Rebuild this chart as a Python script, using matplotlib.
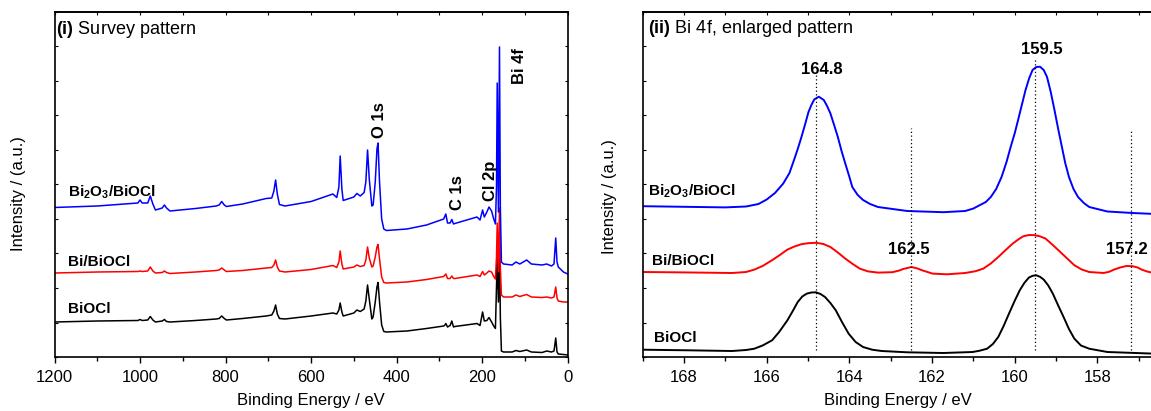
import numpy as np
import matplotlib
matplotlib.use('Agg')
import matplotlib.pyplot as plt
from matplotlib.ticker import MultipleLocator

plt.rcParams['font.family'] = ['Liberation Sans', 'DejaVu Sans']
plt.rcParams['mathtext.fontset'] = 'custom'
plt.rcParams['mathtext.rm'] = 'Liberation Sans'
plt.rcParams['mathtext.bf'] = 'Liberation Sans:bold'

# ---- survey spectra (binding energy in eV, intensity in a.u.) ----
survey_be = [1200, 1100, 1005, 1000, 995, 982, 976, 970, 964, 948, 943, 938, 930,
             870, 822, 815, 809, 803, 798, 760, 705, 692, 687, 683, 679, 674, 661,
             600, 549, 540, 535, 532, 528, 525, 500, 493, 485, 476, 472, 468, 464,
             458, 455, 450, 446, 443.5, 440, 435, 430, 424, 376, 330, 290, 288, 285,
             281, 275, 271, 267, 264, 212, 205, 199, 195, 189, 184, 178, 173, 169,
             166.5, 164.8, 162, 159.5, 157.5, 155, 150, 130, 121, 112, 96, 85, 60,
             49, 38, 32, 28, 25, 22, 10, 0]
survey_bi2o3 = [149.5, 151, 154, 157, 154, 154, 161, 153, 147, 149, 152, 149, 146,
                148.5, 151, 152, 155.5, 152, 150.5, 153, 158.5, 159, 166, 177, 163, 152.5, 151,
                155.5, 163, 159.5, 170, 201, 168, 156.5, 160, 163.5, 161, 164.5, 175, 207, 178,
                151, 152, 175, 208, 214, 175, 138, 128, 126.5, 128, 132, 138, 140, 143,
                134, 134, 137.5, 133, 133.5, 140, 137, 147, 140, 145, 150, 146, 138, 133,
                170, 274, 145, 310, 150, 95, 93, 92, 95, 93, 97, 93, 92,
                93, 91, 93, 119, 95, 90, 85, 83]
survey_bi = [84, 85, 85.5, 86, 85.5, 86, 90, 86, 84, 84.5, 86, 84.5, 83.5,
             85, 86.5, 87, 89, 87, 85.5, 86.5, 89, 89.5, 92, 97, 90, 86, 85,
             87.5, 91.5, 89.5, 95, 106, 93, 88, 90, 92, 90.5, 91.5, 97, 110, 99,
             90, 91, 100, 110, 112.5, 98, 80, 74.5, 74, 75, 77.5, 80.5, 81.5, 83,
             78.5, 78.5, 81, 78.5, 78.5, 82, 80.5, 85.5, 82, 84, 86, 85, 80.5, 78,
             100, 134, 85, 149, 90, 62, 60, 60, 62, 60.5, 62.5, 60, 59.5,
             60, 59, 60, 70, 59, 56, 55, 55]
survey_biocl = [35, 36, 36.5, 37.5, 36.5, 37, 40.5, 37, 35, 36, 37.5, 35.5, 35,
                36.5, 38, 38.5, 41, 38.5, 37, 38.5, 41, 42, 46, 52, 43, 38.5, 38,
                41, 44, 43, 47, 54, 45, 41, 44, 47, 45.5, 48, 56, 72, 58,
                38, 40, 55, 70, 74.5, 55, 32, 25.5, 25, 26, 28.5, 31, 31.5, 33.5,
                30, 31.5, 36, 30, 30.5, 33.5, 31.5, 45, 36, 36.5, 39.5, 35, 31, 28.5,
                70, 100, 55, 115, 40, 6, 5, 5, 6.5, 5.5, 7, 5, 4.5,
                6, 5, 6, 19, 5, 3, 2.5, 2]

# ---- Bi 4f high-resolution spectra ----
bi4f_be_bi2o3 = [169.0, 168.0, 167.0, 166.5, 166.2, 166.0, 165.8, 165.6, 165.45, 165.34,
                 165.25, 165.16, 165.07, 164.99, 164.92, 164.85, 164.74, 164.62, 164.54,
                 164.46, 164.37, 164.28, 164.19, 164.1, 164.0, 163.93, 163.8, 163.67, 163.5,
                 163.31, 162.6, 161.73, 161.2, 161.0, 160.85, 160.7, 160.58, 160.45, 160.32,
                 160.2, 160.1, 160.0, 159.92, 159.83, 159.74, 159.65, 159.57, 159.48, 159.39,
                 159.3, 159.22, 159.13, 159.04, 158.95, 158.86, 158.78, 158.69, 158.58,
                 158.47, 158.33, 158.2, 157.76, 157.15, 156.6]
bi4f_int_bi2o3 = [150.8, 150.2, 149.6, 150.5, 153, 157.5, 164, 173.5, 184, 197,
                  208, 220, 233, 245, 252, 257.6, 260.3, 257, 251,
                  243.6, 232, 220, 206, 193.5, 180, 170, 162, 157, 153,
                  150, 146, 144.8, 146, 148.5, 151.8, 155, 160, 168, 180,
                  195, 210, 224, 237, 252, 267, 279, 287, 290, 290.3,
                  287, 280, 265, 247, 228, 210, 194, 180, 168,
                  160, 154, 150, 145.5, 144, 143]

bi4f_be_bi = [169.0, 168.0, 166.84, 166.5, 166.3, 166.1, 165.87, 165.7, 165.5, 165.33,
              165.16, 165.0, 164.8, 164.63, 164.46, 164.28, 164.1, 163.92, 163.75, 163.55,
              163.31, 162.96, 162.8, 162.7, 162.5, 162.35, 162.25, 161.99, 161.64, 161.2,
              160.95, 160.76, 160.58, 160.4, 160.22, 160.05, 159.9, 159.79, 159.65, 159.52,
              159.4, 159.26, 159.08, 158.9, 158.72, 158.56, 158.38, 158.2, 157.85, 157.72,
              157.6, 157.45, 157.3, 157.15, 157.03, 156.93, 156.8, 156.6]
bi4f_int_bi = [85, 84.6, 84, 85, 87.4, 91, 96.8, 101.5, 107.4, 110.5,
               112.8, 113.8, 114.2, 113, 110, 104.5, 98.4, 93, 88.4, 85.6,
               84.4, 84.8, 86.4, 88, 90, 88.5, 86.8, 83.4, 82.7, 84,
               85.8, 88.4, 93.5, 100, 107, 113.4, 118, 120.8, 122, 121.8,
               120.8, 118.5, 112, 105, 98, 91.8, 87.5, 85, 84, 85.2,
               87.4, 89.5, 91, 90.8, 89.5, 87.4, 85.5, 83.5]

bi4f_be_biocl = [169.0, 167.9, 166.84, 166.5, 166.3, 166.1, 165.87, 165.7, 165.5, 165.37,
                 165.25, 165.14, 165.03, 164.92, 164.81, 164.7, 164.59, 164.46, 164.33,
                 164.18, 164.02, 163.85, 163.67, 163.45, 163.22, 162.6, 161.73, 161.02,
                 160.85, 160.67, 160.53, 160.4, 160.27, 160.14, 160.01, 159.88, 159.77,
                 159.66, 159.57, 159.48, 159.39, 159.3, 159.19, 159.08, 158.95, 158.82,
                 158.69, 158.56, 158.4, 158.2, 157.76, 156.6]
bi4f_int_biocl = [7.3, 6.7, 6, 7, 8.3, 11.5, 16.7, 25, 36.7, 46,
                  55, 60.5, 63.4, 64.5, 64.7, 63, 60, 54, 46.7,
                  35, 23.4, 15, 10, 7.3, 6, 4.7, 4, 5,
                  6.3, 8.3, 13, 20, 31, 43.4, 55.5, 66.7, 74,
                  79.4, 81.2, 81.7, 80.2, 77.4, 71.5, 63.4, 51.5, 40,
                  28, 18.4, 11.5, 8.3, 5, 3.3]

# marked peak positions and where their labels / guide lines sit
peak_be = [164.8, 162.5, 159.5, 157.2]
peak_line_top = [282, 229, 298, 227]
peak_label_xy = [(164.67, 287.6), (162.56, 107.4), (159.35, 307), (157.28, 107.4)]

sample_names = [r'Bi$_\mathbf{2}$O$_\mathbf{3}$/BiOCl', 'Bi/BiOCl', 'BiOCl']
colors = ['#0000ff', '#ff0000', 'k']

YMAX = 345


def style_axis(ax, major, minor):
    ax.set_ylim(0, YMAX)
    ax.set_yticks(np.linspace(0, YMAX, 11))
    ax.tick_params(axis='y', which='both', direction='in', left=True, right=True,
                   labelleft=False, length=2.5, width=0.8)
    ax.xaxis.set_major_locator(MultipleLocator(major))
    ax.xaxis.set_minor_locator(MultipleLocator(minor))
    ax.tick_params(axis='x', which='major', direction='out', length=4, width=1,
                   labelsize=12, pad=5)
    ax.tick_params(axis='x', which='minor', direction='out', length=3, width=1)
    top = ax.secondary_xaxis('top')
    top.xaxis.set_major_locator(MultipleLocator(major))
    top.xaxis.set_minor_locator(MultipleLocator(minor))
    top.tick_params(which='both', direction='in', length=2.5, width=0.8, labeltop=False)
    top.spines['top'].set_linewidth(1.2)
    for s in ax.spines.values():
        s.set_linewidth(1.2)
    ax.set_xlabel('Binding Energy / eV', fontsize=12, labelpad=6)
    ax.set_ylabel('Intensity / (a.u.)', fontsize=12)


fig = plt.figure(figsize=(11.51, 4.11), dpi=100)

# (i) survey
ax1 = fig.add_axes([54.5 / 1151, 54 / 411, 513.2 / 1151, 345 / 411])
for vals, c in zip([survey_biocl, survey_bi, survey_bi2o3], colors[::-1]):
    ax1.plot(survey_be, vals, color=c, lw=1.1)
ax1.set_xlim(1200, 0)
style_axis(ax1, 200, 100)
ax1.yaxis.set_label_coords(-0.055, 0.475)
ax1.text(1196, 328, r'$\mathbf{(i)}$ Survey pattern', fontsize=13, va='center', ha='left')
for txt, x, y in [('O 1s', 439, 237), ('C 1s', 258.5, 164.7),
                  ('Cl 2p', 180.7, 175.7), ('Bi 4f', 112.4, 291)]:
    ax1.text(x, y, txt, rotation=90, fontsize=12, fontweight='bold',
             ha='center', va='center')
for name, y in zip(sample_names, [165, 95, 48.4]):
    ax1.text(1169, y, name, fontsize=11, fontweight='bold', va='center', ha='left')

# (ii) Bi 4f region
ax2 = fig.add_axes([642.7 / 1151, 54 / 411, 511 / 1151, 345 / 411])
ax2.plot(bi4f_be_biocl, bi4f_int_biocl, color='k', lw=1.4)
ax2.plot(bi4f_be_bi, bi4f_int_bi, color='#ff0000', lw=1.4)
ax2.plot(bi4f_be_bi2o3, bi4f_int_bi2o3, color='#0000ff', lw=1.4)
ax2.set_xlim(169, 156.64)
style_axis(ax2, 2, 1)
ax2.yaxis.set_label_coords(-0.05, 0.464)
for be, top, (lx, ly) in zip(peak_be, peak_line_top, peak_label_xy):
    ax2.plot([be, be], [7, top], color='k', ls=(0, (1, 2)), lw=0.9)
    ax2.text(lx, ly, f'{be:.1f}', fontsize=12, fontweight='bold', ha='center', va='center')
ax2.text(168.86, 328.7, r'$\mathbf{(ii)}$ Bi 4f, enlarged pattern', fontsize=13,
         va='center', ha='left')
for name, x, y in zip(sample_names, [168.86, 168.78, 168.73], [166, 95.8, 19]):
    ax2.text(x, y, name, fontsize=11, fontweight='bold', va='center', ha='left')

fig.savefig('out.png', dpi=100)
